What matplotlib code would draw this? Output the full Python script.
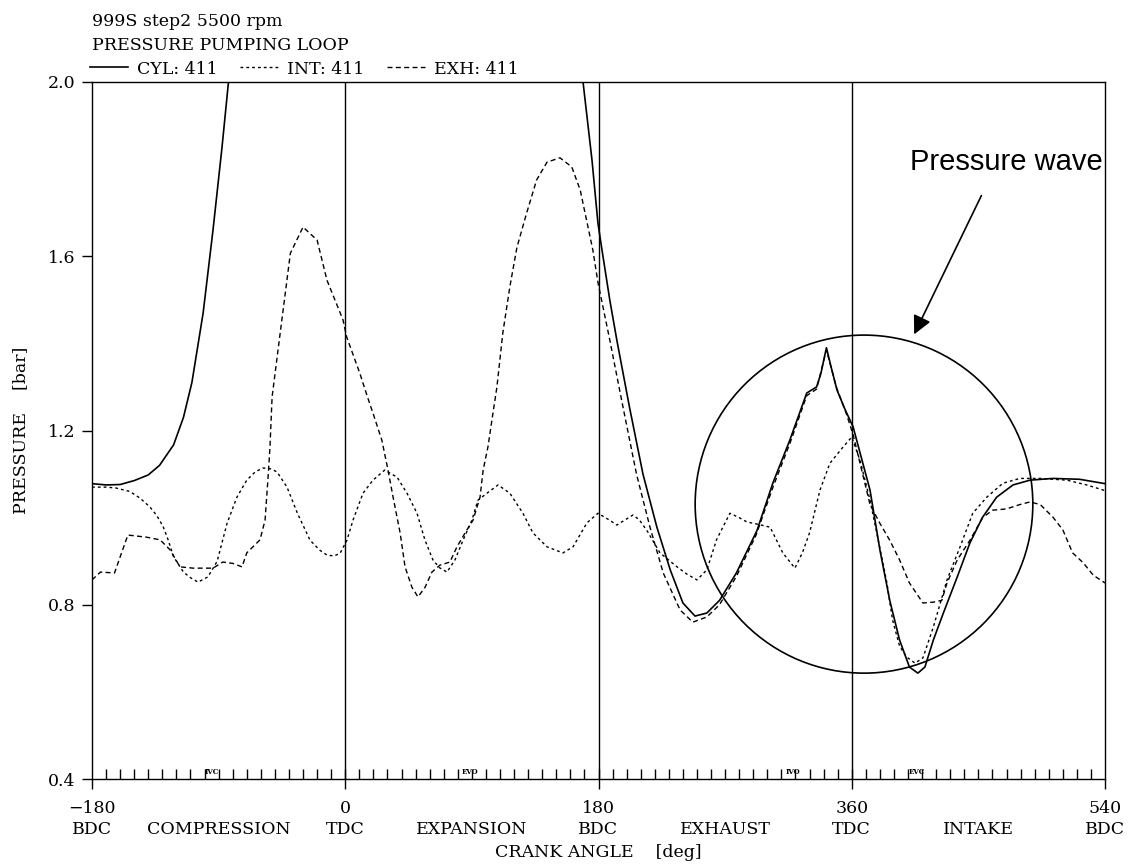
import numpy as np
import matplotlib
matplotlib.use("Agg")
import matplotlib.pyplot as plt
from matplotlib.patches import Ellipse
from matplotlib.ticker import FixedLocator

# Pressure data (crank angle [deg], pressure [bar])
cyl_deg = [-180, -170, -160, -150, -140, -132, -122, -115, -109, -101, -94, -87.6, -83, -80,
           np.nan,
           165, 169, 175.4, 179.6, 182.5, 188, 193, 202, 211.6, 221.5, 231, 240, 248.6, 257,
           266, 278, 292.6, 304, 316, 328, 335, 338, 342, 345, 349.5, 355, 361, 373, 380, 387,
           394, 401, 407, 412, 418, 425, 435, 444, 453, 463, 474.6, 486.7, 503, 522, 540]
cyl_bar = [1.078, 1.075, 1.076, 1.085, 1.098, 1.12, 1.167, 1.23, 1.31, 1.47, 1.66, 1.85, 2.0, 2.1,
           np.nan,
           2.1, 2.0, 1.82, 1.676, 1.614, 1.5, 1.408, 1.254, 1.10, 0.978, 0.88, 0.804, 0.774, 0.781,
           0.81, 0.873, 0.97, 1.08, 1.178, 1.286, 1.30, 1.33, 1.39, 1.35, 1.293, 1.25, 1.208, 1.063, 0.926, 0.81,
           0.719, 0.657, 0.643, 0.657, 0.719, 0.78, 0.864, 0.942, 1.001, 1.047, 1.075, 1.086, 1.09, 1.088, 1.078]

int_deg = [-180, -170, -163, -153, -146, -139, -134, -129.5, -126, -122, -115, -110, -104.6, -97.6,
           -91, -84, -77, -70, -64, -58.5, -53, -48.5, -41.4, -34, -25, -18, -13, -8, -3.7, 1.2,
           5.5, 12.6, 19.7, 28, 36.8, 43.9, 51, 56.7, 62.3, 67, 72.3, 78, 83.7, 90, 94.3, 100.7,
           108.6, 117, 126.3, 133.4, 143.4, 154.7, 161.9, 171.8, 179.6, 188, 193, 199, 204.5, 209,
           214.5, 223.7, 235.8, 243, 250, 257, 264, 273.4, 280, 285.5, 293, 302, 311, 319.6, 325,
           330, 337.4, 344.5, 353.8, 360, 366, 373, 380, 385, 389, 394, 399, 405, 410.6, 418,
           427.7, 437, 446, 456, 467.5, 479.5, 494, 513, 527, 540]
int_bar = [1.07, 1.07, 1.068, 1.06, 1.045, 1.025, 1.005, 0.98, 0.95, 0.91, 0.875, 0.862, 0.852, 0.864,
           0.90, 0.987, 1.047, 1.086, 1.105, 1.114, 1.112, 1.105, 1.07, 1.01, 0.948, 0.925, 0.914, 0.912, 0.918, 0.948,
           0.994, 1.056, 1.086, 1.109, 1.093, 1.056, 1.01, 0.948, 0.903, 0.885, 0.875, 0.903, 0.948, 0.994, 1.04, 1.056,
           1.075, 1.056, 1.01, 0.965, 0.933, 0.919, 0.933, 0.988, 1.01, 0.994, 0.983, 0.995, 1.006, 0.995,
           0.97, 0.919, 0.887, 0.87, 0.857, 0.88, 0.95, 1.01, 1.0, 0.99, 0.985, 0.978, 0.919, 0.884, 0.92,
           0.965, 1.063, 1.125, 1.162, 1.185, 1.13, 1.04, 0.93, 0.85, 0.765, 0.705, 0.68, 0.666, 0.678, 0.749,
           0.857, 0.933, 1.01, 1.047, 1.079, 1.09, 1.09, 1.086, 1.075, 1.062]

exh_deg = [-180, -174, -164, -159, -154.5, -141, -131.6, -124.5, -117.5, -108, -94, -87, -80, -73.4,
           -70, -60.6, -57, -55, -53.5, -52, -46, -39, -30, -20, -13, -1.6, 1, 10.5, 16, 19.7, 26,
           30.4, 34, 39, 42.5, 47.4, 51.7, 56.7, 61.6, 67.3, 74.4, 79.4, 86.5, 90.8, 95.8, 98, 101.4,
           105, 107.8, 112, 117, 122, 129, 136, 143.4, 152.6, 161, 167, 176, 179.6, 188, 197.4, 207,
           216.6, 226, 238, 247, 257, 266, 278, 292, 304, 316, 328, 335, 342, 349, 356, 361, 367,
           373, 380, 387, 394, 401, 410.6, 418, 424, 427.7, 435, 444, 453, 460, 470, 479.5, 486.7,
           494, 503, 510, 517, 524.6, 531.6, 540]
exh_bar = [0.857, 0.875, 0.873, 0.919, 0.96, 0.955, 0.949, 0.926, 0.887, 0.884, 0.884, 0.898, 0.895, 0.887,
           0.919, 0.949, 0.994, 1.086, 1.162, 1.277, 1.43, 1.607, 1.667, 1.637, 1.545, 1.454, 1.415, 1.33, 1.275, 1.24, 1.178,
           1.109, 1.047, 0.965, 0.887, 0.84, 0.818, 0.84, 0.875, 0.891, 0.898, 0.933, 0.972, 0.994, 1.047, 1.109, 1.162,
           1.24, 1.30, 1.424, 1.53, 1.62, 1.70, 1.775, 1.816, 1.826, 1.805, 1.752, 1.614, 1.54, 1.408, 1.254, 1.10,
           0.978, 0.873, 0.788, 0.76, 0.772, 0.80, 0.865, 0.96, 1.07, 1.17, 1.28, 1.295, 1.385, 1.30, 1.24, 1.19, 1.11,
           1.03, 0.987, 0.948, 0.903, 0.85, 0.804, 0.806, 0.81, 0.85, 0.903, 0.948, 1.0, 1.017, 1.02, 1.03, 1.036,
           1.03, 1.001, 0.972, 0.919, 0.896, 0.868, 0.85]

# axis labels
crank_ticks = [-180, -90, 0, 90, 180, 270, 360, 450, 540]
crank_labels = ["\u2212180\nBDC", "\nCOMPRESSION", "0\nTDC", "\nEXPANSION", "180\nBDC",
                "\nEXHAUST", "360\nTDC", "\nINTAKE", "540\nBDC"]
p_ticks = [0.4, 0.8, 1.2, 1.6, 2.0]
tdc_bdc_lines = [0, 180, 360]

# valve events marked at the bottom
valve_deg = [-95, 89, 318, 406]
valve_txt = ["IVC", "EVO", "IVO", "EVC"]

plt.rcParams['font.family'] = ['DejaVu Serif']
fs = 12.5

W, H = 1133, 864
fig = plt.figure(figsize=(W / 100, H / 100), dpi=100)
ax = fig.add_axes([92 / W, 1 - 779 / H, (1105 - 92) / W, (779 - 82) / H])

l_cyl, = ax.plot(cyl_deg, cyl_bar, color='black', lw=1.2, ls='-')
l_int, = ax.plot(int_deg, int_bar, color='black', lw=1.0, ls=(0, (2.0, 2.2)))
l_exh, = ax.plot(exh_deg, exh_bar, color='black', lw=1.0, ls=(0, (3.6, 2.4)))

for v in tdc_bdc_lines:
    ax.axvline(v, color='black', lw=1.0)

ax.set_xlim(-180, 540)
ax.set_ylim(0.4, 2.0)

ax.set_xticks(crank_ticks)
ax.set_xticklabels(crank_labels, fontsize=fs, linespacing=1.3)
for t in ax.xaxis.get_major_ticks()[1::2]:
    t.tick1line.set_visible(False)
ax.xaxis.set_minor_locator(FixedLocator(np.arange(-170, 540, 10)))
ax.xaxis.remove_overlapping_locs = False
ax.tick_params(axis='x', which='major', direction='out', length=7, width=1.0, pad=8)
ax.tick_params(axis='x', which='minor', direction='in', length=7, width=1.0)
ax.set_yticks(p_ticks)
ax.set_yticklabels([f"{v:.1f}" for v in p_ticks], fontsize=fs)
ax.tick_params(axis='y', direction='out', length=7, width=1.0, pad=5)

for s in ax.spines.values():
    s.set_linewidth(1.0)

ax.set_xlabel("CRANK ANGLE    [deg]", fontsize=fs)
ax.xaxis.set_label_coords(0.5, -0.093)
ax.set_ylabel("PRESSURE    [bar]", fontsize=fs)
ax.yaxis.set_label_coords(-0.062, 0.5)

for d, t in zip(valve_deg, valve_txt):
    ax.text(d, 0.408, t, fontsize=5, fontweight='bold', ha='center', va='bottom')

# header
fig.text(92 / W, 1 - 21 / H, "999S step2 5500 rpm", fontsize=fs, va='center')
fig.text(92 / W, 1 - 45 / H, "PRESSURE PUMPING LOOP", fontsize=fs, va='center')
fig.legend([l_cyl, l_int, l_exh], ["CYL: 411", "INT: 411", "EXH: 411"],
           loc='center left', bbox_to_anchor=(90 / W, 1 - 69 / H), ncol=3, frameon=False,
           fontsize=fs, handlelength=2.2, handletextpad=0.5, columnspacing=1.3,
           borderaxespad=0, borderpad=0)

# annotation
ax.add_patch(Ellipse((368.7, 1.031), 240, 0.776, fill=False, color='black', lw=1.2, clip_on=False))
ax.annotate('', xy=(403.5, 1.415), xytext=(453, 1.745),
            arrowprops=dict(arrowstyle='-|>', color='black', lw=1.2, mutation_scale=28),
            annotation_clip=False)
ax.text(469.6, 1.816, "Pressure wave", fontfamily='Liberation Sans', fontsize=21,
        ha='center', va='center', clip_on=False)

fig.savefig("out.png", dpi=100, facecolor='white')
